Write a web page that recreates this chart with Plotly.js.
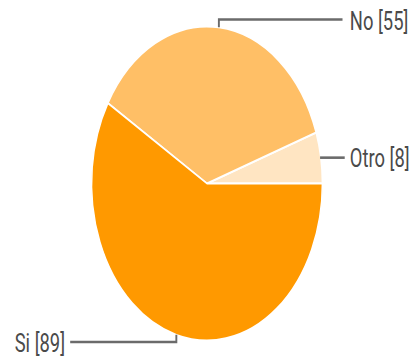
<!DOCTYPE html>
<html><head><meta charset="utf-8">
<script src="https://cdn.plot.ly/plotly-3.0.1.min.js"></script>
<style>
html,body{margin:0;padding:0;overflow:hidden;background:#fff;width:416px;height:360px;}
#wrap{width:416px;height:360px;overflow:hidden;position:relative;}
#chart{width:566px;height:360px;transform:scaleX(0.735);transform-origin:0 0;position:absolute;left:0;top:0;}
</style></head>
<body><div id="wrap"><div id="chart"></div></div>
<script>
// Data
const categories = ['Otro', 'No', 'Si'];
const counts = [8, 55, 89];
const sliceColors = ['#ffe5c2', '#ffbf66', '#ff9900'];

// Layout constants (pixels, unscaled)
const W = 566, H = 360;
const cx = 281.6, cy = 183.5, R = 157;
// per-category leader style: elbowY (null = straight), end x of line, text x, anchor, text y
const leader = [
  {elbowY: null, endX: 469, textX: 473.5, anchor: 'left', textY: 158},
  {elbowY: 19.5, endX: 466, textX: 473.5, anchor: 'left', textY: 21},
  {elbowY: 342, endX: 95.5, textX: 89.8, anchor: 'right', textY: 343}
];

const px = x => x / W, py = y => 1 - y / H;
const total = counts.reduce((a, b) => a + b, 0);
let cum = 0;
const shapes = [], annotations = [];
categories.forEach((c, i) => {
  const a0 = cum / total * 2 * Math.PI;
  cum += counts[i];
  const a1 = cum / total * 2 * Math.PI;
  const am = (a0 + a1) / 2;
  const sx = cx + R * Math.cos(am), sy = cy - R * Math.sin(am);
  const L = leader[i];
  const lineStyle = {color: '#6b6b6b', width: 2.6};
  if (L.elbowY === null) {
    shapes.push({type: 'line', xref: 'paper', yref: 'paper', x0: px(sx - 1), y0: py(sy), x1: px(L.endX), y1: py(sy), line: lineStyle});
  } else {
    shapes.push({type: 'path', xref: 'paper', yref: 'paper',
      path: `M ${px(sx)} ${py(sy)} L ${px(sx)} ${py(L.elbowY)} L ${px(L.endX)} ${py(L.elbowY)}`,
      line: lineStyle});
  }
  annotations.push({xref: 'paper', yref: 'paper', x: px(L.textX), y: py(L.textY),
    xanchor: L.anchor, yanchor: 'middle', showarrow: false,
    text: `${c} [${counts[i]}]`,
    font: {family: 'Roboto, Arial, sans-serif', size: 25, color: '#4a4a4a'}});
});

const trace = {
  type: 'pie', labels: categories, values: counts, sort: false,
  direction: 'counterclockwise', rotation: 90 - counts[0] / total * 360,
  marker: {colors: sliceColors, line: {color: '#ffffff', width: 2}},
  textinfo: 'none', hoverinfo: 'label+value',
  domain: {x: [px(cx - R), px(cx + R)], y: [py(cy + R), py(cy - R)]}
};

Plotly.newPlot('chart', [trace], {
  width: W, height: H, margin: {l: 0, r: 0, t: 0, b: 0},
  showlegend: false, paper_bgcolor: '#fff', plot_bgcolor: '#fff',
  shapes: shapes, annotations: annotations
}, {displayModeBar: false, staticPlot: true});
</script></body></html>
